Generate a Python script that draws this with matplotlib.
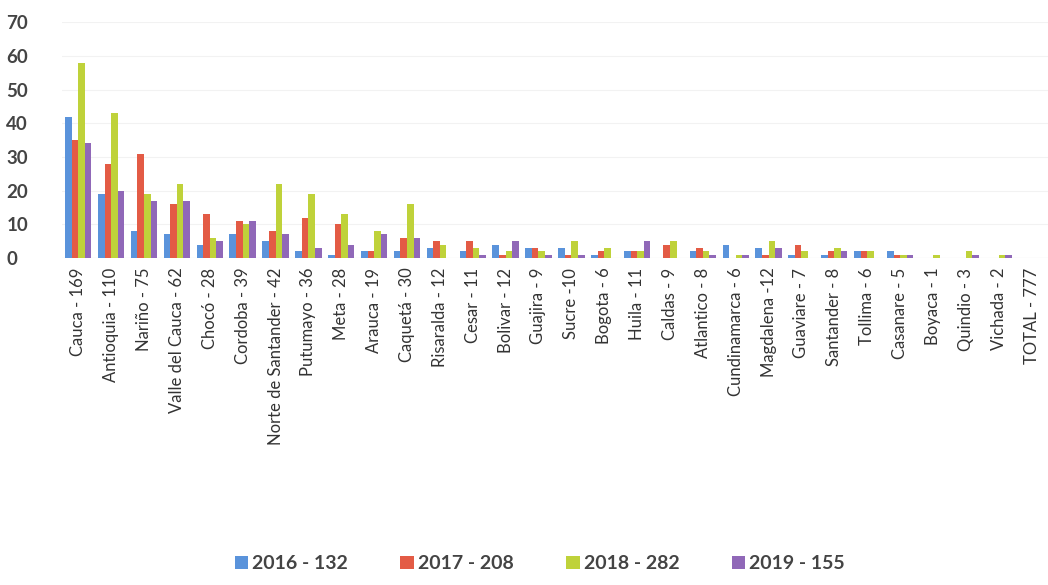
import numpy as np
import matplotlib.pyplot as plt

# victims per department and year; the TOTAL column has no bars
DEPTOS = ["Cauca - 169", "Antioquia - 110", "Nariño - 75", "Valle del Cauca - 62",
          "Chocó - 28", "Cordoba - 39", "Norte de Santander - 42", "Putumayo - 36",
          "Meta - 28", "Arauca - 19", "Caquetá - 30", "Risaralda - 12", "Cesar - 11",
          "Bolivar - 12", "Guajira - 9", "Sucre -10", "Bogota - 6", "Huila - 11",
          "Caldas - 9", "Atlantico - 8", "Cundinamarca - 6", "Magdalena -12",
          "Guaviare - 7", "Santander - 8", "Tollima - 6", "Casanare - 5",
          "Boyaca - 1", "Quindio - 3", "Vichada - 2", "TOTAL - 777"]
Y2016 = [42, 19, 8, 7, 4, 7, 5, 2, 1, 2, 2, 3, 2, 4, 3, 3, 1, 2, 0, 2, 4, 3, 1, 1, 2, 2, 0, 0, 0, np.nan]
Y2017 = [35, 28, 31, 16, 13, 11, 8, 12, 10, 2, 6, 5, 5, 1, 3, 1, 2, 2, 4, 3, 0, 1, 4, 2, 2, 1, 0, 0, 0, np.nan]
Y2018 = [58, 43, 19, 22, 6, 10, 22, 19, 13, 8, 16, 4, 3, 2, 2, 5, 3, 2, 5, 2, 1, 5, 2, 3, 2, 1, 1, 2, 1, np.nan]
Y2019 = [34, 20, 17, 17, 5, 11, 7, 3, 4, 7, 6, 0, 1, 5, 1, 1, 0, 5, 0, 1, 1, 3, 0, 2, 0, 1, 0, 1, 1, np.nan]
SERIES = ["2016 - 132", "2017 - 208", "2018 - 282", "2019 - 155"]
COLORS = ["#5A93DB", "#E35B45", "#BFD23A", "#9068B8"]

plt.rcParams["font.family"] = ["Lato", "DejaVu Sans"]

fig = plt.figure(figsize=(10.48, 5.85), dpi=100)
fig.patch.set_facecolor("white")

ax = fig.add_axes([0.059, 0.559, 0.941, 0.403])
ax.patch.set_alpha(0)

x = np.arange(len(DEPTOS))
w = 0.2
for i, (vals, name, col) in enumerate(zip([Y2016, Y2017, Y2018, Y2019], SERIES, COLORS)):
    ax.bar(x + (i - 1.5) * w, vals, width=w, color=col, label=name, zorder=3)

ax.set_xlim(-0.5, len(DEPTOS) - 0.5)
ax.set_ylim(0, 70)
ax.set_yticks(range(0, 71, 10))
ax.yaxis.grid(True, color="#f2f2f2", lw=0.8, zorder=0)
ax.axhline(0, color="#dddddd", lw=0.8, zorder=2)
for s in ax.spines.values():
    s.set_visible(False)

ax.set_xticks(x)
ax.set_xticklabels(DEPTOS, rotation=90, fontsize=12, color="#333333")
ax.tick_params(axis="both", length=0)
ax.tick_params(axis="x", pad=7)
ax.tick_params(axis="y", pad=40)
for lbl in ax.get_yticklabels():
    lbl.set_fontsize(13.5)
    lbl.set_fontweight("bold")
    lbl.set_color("#444444")
    lbl.set_horizontalalignment("left")

fig.legend(loc="lower center", bbox_to_anchor=(0.515, -0.008), ncol=4, frameon=False,
           handlelength=0.7, handleheight=0.7, handletextpad=0.2, columnspacing=2.7,
           prop={"size": 14, "weight": "bold"}, labelcolor="#444444")

fig.savefig("out.png", dpi=100)
